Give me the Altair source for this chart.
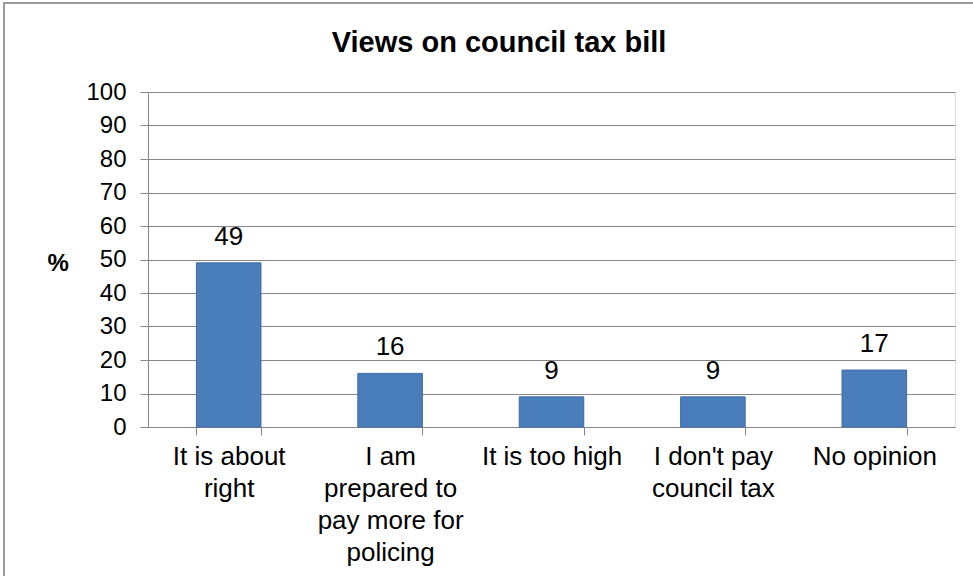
import altair as alt
import pandas as pd

categories = ["It is about\nright", "I am\nprepared to\npay more for\npolicing", "It is too high",
              "I don't pay\ncouncil tax", "No opinion"]
values = [49, 16, 9, 9, 17]
title_text = ["Views on council tax bill"]

df = pd.DataFrame({"cat": categories, "val": values})
tdf = pd.DataFrame({"t": title_text})

FONT = "Liberation Sans"
W, H = 807, 335

x = alt.X("cat:N", sort=categories, title=None,
          scale=alt.Scale(paddingInner=0.6, paddingOuter=0.3),
          axis=alt.Axis(labelAngle=0,
                        labelExpr="datum.value ? split(datum.value, '\\n') : ''",
                        labelFontSize=26, labelLineHeight=32, labelColor="#000000",
                        labelFont=FONT, labelPadding=8, labelBaseline="top",
                        domainColor="#868686", tickColor="#868686", tickSize=8,
                        tickBand="extent", grid=False))
y = alt.Y("val:Q", title="%", scale=alt.Scale(domain=[0, 100]),
          axis=alt.Axis(values=list(range(0, 101, 10)), labelFontSize=24, labelColor="#000000",
                        labelFont=FONT, titleAngle=0, titleFontSize=24, titleFont=FONT,
                        titleFontWeight="bold", titleX=-101, titleY=171, titleAlign="left",
                        titleBaseline="middle", titleColor="#000000",
                        domainColor="#868686", tickColor="#868686", tickSize=8,
                        gridColor="#868686", gridWidth=1, labelPadding=14))

bars = alt.Chart(df).mark_bar(color="#4A7EBB", stroke="#3C6DA8", strokeWidth=1).encode(x=x, y=y)
labels = alt.Chart(df).mark_text(dy=-18, baseline="alphabetic", fontSize=26, font=FONT,
                                  color="#000000").encode(x=x, y=y, text="val:Q")
frame = alt.Chart(df).mark_rect(fill=None, stroke="#9A9A9A", strokeWidth=2).encode(
    x=alt.value(-144), x2=alt.value(840), y=alt.value(-89), y2=alt.value(500))
title = alt.Chart(tdf).mark_text(fontSize=29, font=FONT, fontWeight="bold", color="#000000",
                                 baseline="alphabetic", align="center").encode(
    x=alt.value(351), y=alt.value(-40), text="t:N")

chart = alt.layer(frame, bars, labels, title).properties(
    width=W, height=H,
    autosize=alt.AutoSizeParams(type="none"),
    padding={"left": 148, "top": 92, "right": 18, "bottom": 149},
).configure_view(stroke=None).configure(background="#ffffff")

chart.save("out.html", embed_options={"renderer": "svg", "actions": False})
